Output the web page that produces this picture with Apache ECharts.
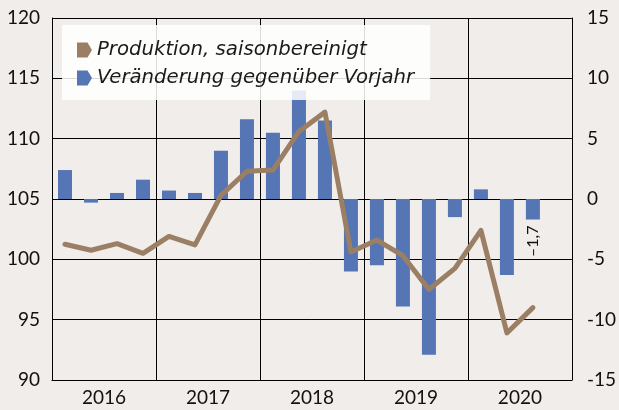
<!DOCTYPE html>
<html>
<head>
<meta charset="utf-8">
<script src="https://cdn.jsdelivr.net/npm/echarts@6/dist/echarts.min.js"></script>
<style>
  html, body { margin: 0; padding: 0; background: #f0edea; }
  #chart { width: 619px; height: 410px; }
</style>
</head>
<body>
<div id="chart"></div>
<script>
// Quartale 2016-2020, Jahresbeschriftung
const quarters = [
  "2016Q1", "2016Q2", "2016Q3", "2016Q4",
  "2017Q1", "2017Q2", "2017Q3", "2017Q4",
  "2018Q1", "2018Q2", "2018Q3", "2018Q4",
  "2019Q1", "2019Q2", "2019Q3", "2019Q4",
  "2020Q1", "2020Q2", "2020Q3", "2020Q4"
];
const years = ["2016", "2017", "2018", "2019", "2020"];

// Produktion, saisonbereinigt (linke Achse)
const produktion = [
  101.25, 100.75, 101.3, 100.5, 101.9, 101.2, 105.3, 107.3,
  107.4, 110.6, 112.2, 100.6, 101.6, 100.3, 97.5, 99.25,
  102.4, 93.9, 96.0, null
];
// Veränderung gegenüber Vorjahr (rechte Achse)
const veraenderung = [
  2.4, -0.3, 0.5, 1.6, 0.7, 0.5, 4.0, 6.6,
  5.5, 9.0, 6.5, -6.0, -5.5, -8.9, -12.9, -1.5,
  0.8, -6.3, -1.7, null
];
const leftTicks = { min: 90, max: 120, interval: 5 };
const rightTicks = { min: -15, max: 15, interval: 5 };

const chart = echarts.init(document.getElementById("chart"));

const arrow = "path://M0,0 L7,0 L10,5 L7,10 L0,10 Z";
const font = "Lato, 'Noto Sans', sans-serif";

const barData = veraenderung.map(function (v, i) {
  if (i === 18) {
    return {
      value: v,
      label: {
        show: true,
        position: "bottom",
        rotate: 90,
        align: "right",
        verticalAlign: "middle",
        distance: 6,
        formatter: "\u20131,7",
        color: "#111",
        fontSize: 16,
        fontFamily: font
      }
    };
  }
  return v;
});

const option = {
  backgroundColor: "#f0edea",
  animation: false,
  grid: { left: 52, right: 47, top: 18, bottom: 30 },
  legend: {
    orient: "vertical",
    left: 62,
    top: 25,
    padding: [15, 16, 12, 15],
    itemGap: 8,
    itemWidth: 15,
    itemHeight: 15,
    backgroundColor: "rgba(255,255,255,0.85)",
    textStyle: { fontSize: 19.7, fontStyle: "italic", color: "#1a1a1a", fontFamily: "'DejaVu Sans', sans-serif" },
    data: [
      { name: "Produktion, saisonbereinigt", icon: arrow },
      { name: "Veränderung gegenüber Vorjahr", icon: arrow }
    ]
  },
  xAxis: [
    {
      type: "category",
      data: quarters,
      show: false
    },
    {
      type: "category",
      data: years,
      position: "bottom",
      axisLine: { show: true, lineStyle: { color: "#000", width: 1 } },
      axisTick: { show: false },
      splitLine: { show: true, lineStyle: { color: "#000", width: 1 } },
      axisLabel: { color: "#111", fontSize: 19, fontFamily: font, margin: 8 }
    }
  ],
  yAxis: [
    {
      type: "value",
      position: "left",
      min: leftTicks.min,
      max: leftTicks.max,
      interval: leftTicks.interval,
      axisLine: { show: true, lineStyle: { color: "#000" } },
      axisTick: { show: false },
      splitLine: { show: true, lineStyle: { color: "#000", width: 1 } },
      axisLabel: { color: "#111", fontSize: 19, fontFamily: font, margin: 12 }
    },
    {
      type: "value",
      position: "right",
      min: rightTicks.min,
      max: rightTicks.max,
      interval: rightTicks.interval,
      axisLine: { show: true, lineStyle: { color: "#000" } },
      axisTick: { show: false },
      splitLine: { show: false },
      axisLabel: { color: "#111", fontSize: 19, fontFamily: font, margin: 15 }
    }
  ],
  series: [
    {
      name: "Veränderung gegenüber Vorjahr",
      type: "bar",
      xAxisIndex: 0,
      yAxisIndex: 1,
      barWidth: 14,
      itemStyle: { color: "#5575b4" },
      data: barData,
      z: 2
    },
    {
      name: "Produktion, saisonbereinigt",
      type: "line",
      xAxisIndex: 0,
      yAxisIndex: 0,
      symbol: "none",
      lineStyle: { color: "#9b7f65", width: 5, join: "round", cap: "round" },
      itemStyle: { color: "#9b7f65" },
      data: produktion,
      z: 3
    }
  ]
};

chart.setOption(option);
</script>
</body>
</html>
